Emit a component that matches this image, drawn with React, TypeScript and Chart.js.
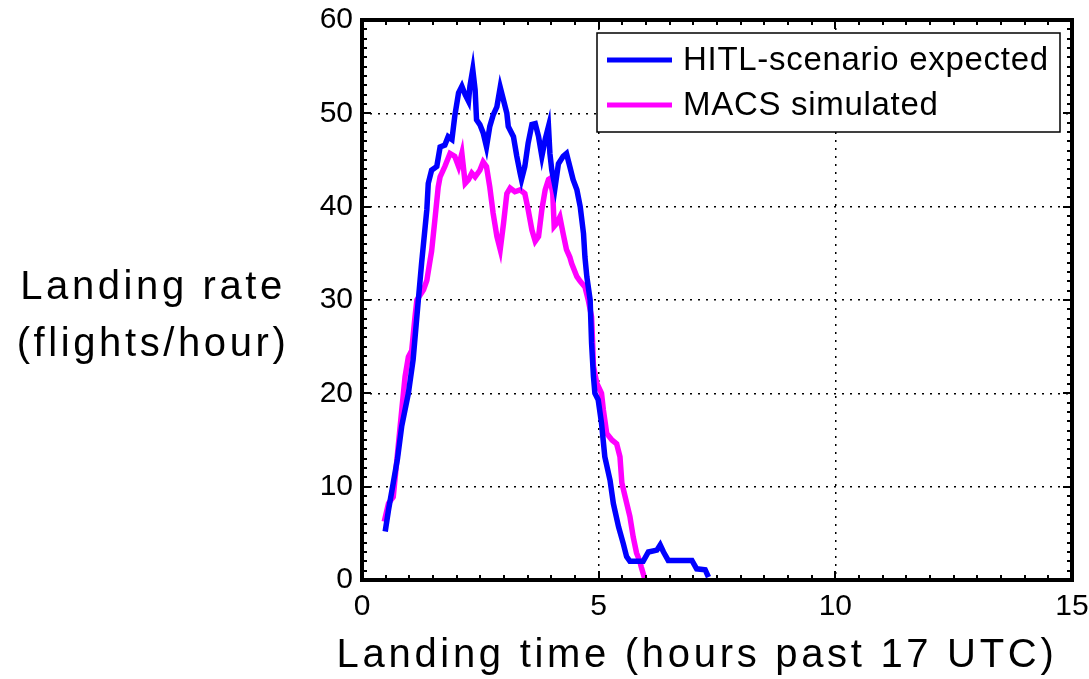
import React, { useEffect, useRef } from 'react';
import { Chart, registerables } from 'chart.js';

Chart.register(...registerables);

// ---- data ----
const hitlTime = [0.49, 0.56, 0.66, 0.75, 0.84, 0.98, 1.08, 1.19, 1.26, 1.37, 1.40, 1.47, 1.58, 1.65, 1.75, 1.82, 1.90, 1.96, 2.04, 2.11, 2.18, 2.25, 2.28, 2.34, 2.39, 2.42, 2.49, 2.56, 2.63, 2.70, 2.77, 2.85, 2.92, 2.99, 3.06, 3.09, 3.20, 3.27, 3.34, 3.37, 3.44, 3.51, 3.59, 3.66, 3.73, 3.80, 3.87, 3.94, 3.97, 4.01, 4.08, 4.15, 4.25, 4.32, 4.39, 4.46, 4.54, 4.61, 4.68, 4.71, 4.75, 4.82, 4.85, 4.89, 4.92, 4.99, 5.06, 5.13, 5.24, 5.31, 5.42, 5.52, 5.59, 5.66, 5.94, 6.05, 6.23, 6.30, 6.37, 6.47, 6.97, 7.07, 7.25, 7.32];
const hitlRate = [5.2, 7.5, 10.4, 13.0, 16.5, 20.0, 23.6, 30.0, 34.0, 39.7, 42.5, 43.9, 44.3, 46.4, 46.6, 47.5, 47.2, 49.7, 52.2, 52.9, 52.0, 51.3, 52.9, 54.7, 52.5, 49.3, 48.8, 47.9, 46.4, 48.6, 49.8, 50.7, 52.8, 51.4, 50.0, 48.6, 47.5, 45.4, 43.6, 42.9, 44.3, 46.8, 48.8, 48.9, 47.5, 45.4, 47.2, 48.6, 45.7, 43.9, 42.1, 44.6, 45.4, 45.7, 44.3, 42.9, 41.8, 40.0, 37.1, 34.6, 32.5, 30.0, 25.4, 21.8, 20.0, 19.3, 16.8, 13.2, 10.7, 8.2, 5.7, 3.9, 2.5, 2.0, 2.0, 3.0, 3.2, 3.75, 3.0, 2.1, 2.1, 1.2, 1.1, 0.3];

const macsTime = [0.47, 0.56, 0.66, 0.73, 0.84, 0.91, 0.98, 1.05, 1.12, 1.16, 1.30, 1.37, 1.44, 1.47, 1.54, 1.61, 1.65, 1.75, 1.86, 1.96, 2.04, 2.11, 2.18, 2.25, 2.32, 2.39, 2.49, 2.56, 2.63, 2.70, 2.77, 2.85, 2.92, 2.99, 3.06, 3.13, 3.23, 3.34, 3.44, 3.51, 3.59, 3.66, 3.73, 3.80, 3.87, 3.94, 3.97, 4.03, 4.06, 4.11, 4.18, 4.25, 4.32, 4.39, 4.43, 4.54, 4.61, 4.71, 4.78, 4.85, 4.87, 4.89, 4.96, 5.06, 5.10, 5.17, 5.28, 5.38, 5.45, 5.49, 5.56, 5.66, 5.73, 5.80, 5.87, 5.90, 5.98];
const macsRate = [6.25, 8.2, 8.9, 12.5, 18.2, 21.8, 23.9, 24.6, 28.2, 30.0, 31.1, 32.1, 34.3, 35.2, 38.6, 42.1, 43.2, 44.3, 45.7, 45.4, 44.3, 45.7, 42.5, 42.9, 43.6, 43.2, 43.9, 44.8, 44.3, 42.1, 39.3, 36.8, 35.4, 38.2, 41.4, 42.0, 41.6, 41.8, 41.4, 39.7, 37.5, 36.3, 36.8, 39.7, 41.8, 42.9, 43.0, 41.4, 37.9, 38.2, 38.9, 37.1, 35.4, 34.6, 33.9, 32.5, 32.0, 31.4, 30.0, 28.2, 25.7, 22.9, 21.1, 20.0, 18.2, 15.7, 15.0, 14.6, 13.2, 10.4, 8.9, 6.8, 4.6, 2.9, 2.0, 1.4, 0.0];

const seriesLabels = ['HITL-scenario expected', 'MACS simulated'];
const seriesColors = ['#0000ff', '#ff00ff'];
const xTickValues = [0, 5, 10, 15];
const yTickValues = [0, 10, 20, 30, 40, 50, 60];
const xMinorStep = 0.5;
const yMinorStep = 1;
const xTitle = 'Landing time (hours past 17 UTC)';
const yTitleLines = ['Landing rate', '(flights/hour)'];

const FONT = '"Liberation Sans", Arial, Helvetica, sans-serif';

function toPoints(xs: number[], ys: number[]) {
  return xs.map((x, i) => ({ x, y: ys[i] }));
}

const decorPlugin = {
  id: 'matlabDecor',
  afterDatasetsDraw(chart: any) {
    const { ctx, chartArea, scales } = chart;
    const { left, right, top, bottom } = chartArea;
    const xs = scales.x;
    const ys = scales.y;
    ctx.save();
    ctx.strokeStyle = '#000';
    ctx.lineWidth = 2;
    ctx.beginPath();
    const xMin = xTickValues[0];
    const xMax = xTickValues[xTickValues.length - 1];
    for (let k = 0; xMin + k * xMinorStep <= xMax + 1e-9; k++) {
      const v = xMin + k * xMinorStep;
      const px = Math.round(xs.getPixelForValue(v));
      const major = xTickValues.includes(v);
      const len = major ? 9 : 5;
      ctx.moveTo(px, bottom);
      ctx.lineTo(px, bottom - len);
      ctx.moveTo(px, top);
      ctx.lineTo(px, top + len);
    }
    const yMin = yTickValues[0];
    const yMax = yTickValues[yTickValues.length - 1];
    for (let k = 0; yMin + k * yMinorStep <= yMax + 1e-9; k++) {
      const v = yMin + k * yMinorStep;
      const py = Math.round(ys.getPixelForValue(v));
      const major = yTickValues.includes(v);
      const len = major ? 9 : 5;
      ctx.moveTo(left, py);
      ctx.lineTo(left + len, py);
      ctx.moveTo(right, py);
      ctx.lineTo(right - len, py);
    }
    ctx.stroke();
    ctx.lineWidth = 4;
    ctx.strokeRect(left, top, right - left, bottom - top);

    // legend
    const boxRight = right - 12;
    const boxTop = top + 13;
    const boxW = 463;
    const boxH = 99;
    const boxLeft = boxRight - boxW;
    ctx.fillStyle = '#fff';
    ctx.fillRect(boxLeft, boxTop, boxW, boxH);
    ctx.lineWidth = 1.5;
    ctx.strokeRect(boxLeft, boxTop, boxW, boxH);
    ctx.font = `33px ${FONT}`;
    ctx.textBaseline = 'middle';
    ctx.textAlign = 'left';
    chart.data.datasets.forEach((ds: any, i: number) => {
      const cy = boxTop + 27 + i * 45;
      ctx.strokeStyle = ds.borderColor;
      ctx.lineWidth = 5;
      ctx.beginPath();
      ctx.moveTo(boxLeft + 10, cy);
      ctx.lineTo(boxLeft + 75, cy);
      ctx.stroke();
      ctx.fillStyle = '#000';
      (ctx as any).letterSpacing = '0.7px';
      ctx.fillText(ds.label, boxLeft + 86, cy + 1);
    });
    ctx.restore();
  },
  afterDraw(chart: any) {
    const { ctx } = chart;
    ctx.save();
    ctx.fillStyle = '#000';
    ctx.textAlign = 'center';
    ctx.textBaseline = 'middle';
    ctx.font = `40px ${FONT}`;
    (ctx as any).letterSpacing = '3.7px';
    ctx.fillText(xTitle, 697, 656);
    (ctx as any).letterSpacing = '3.6px';
    yTitleLines.forEach((line, i) => {
      ctx.fillText(line, 153, 288 + i * 57);
    });
    ctx.restore();
  },
};

export default function App() {
  const canvasRef = useRef<HTMLCanvasElement | null>(null);

  useEffect(() => {
    if (!canvasRef.current) return;
    const chart = new Chart(canvasRef.current, {
      type: 'line',
      data: {
        datasets: [
          {
            label: seriesLabels[0],
            data: toPoints(hitlTime, hitlRate),
            borderColor: seriesColors[0],
            backgroundColor: seriesColors[0],
            borderWidth: 5.5,
            pointRadius: 0,
            tension: 0,
          },
          {
            label: seriesLabels[1],
            data: toPoints(macsTime, macsRate),
            borderColor: seriesColors[1],
            backgroundColor: seriesColors[1],
            borderWidth: 5.5,
            pointRadius: 0,
            tension: 0,
          },
        ],
      },
      options: {
        responsive: false,
        animation: false,
        devicePixelRatio: 1,
        layout: { padding: { top: 20, right: 17, left: 0, bottom: 0 } },
        plugins: {
          legend: { display: false },
          tooltip: { enabled: false },
        },
        scales: {
          x: {
            type: 'linear',
            min: xTickValues[0],
            max: xTickValues[xTickValues.length - 1],
            afterBuildTicks: (s: any) => {
              s.ticks = xTickValues.map((v) => ({ value: v }));
            },
            afterFit: (s: any) => {
              s.height = 99;
              s.paddingLeft = 0;
              s.paddingRight = 0;
            },
            ticks: {
              color: '#000',
              font: { family: FONT, size: 30 },
              padding: 9,
              maxRotation: 0,
            },
            grid: {
              color: '#000',
              lineWidth: 1.5,
              drawTicks: false,
            },
            border: { display: false, dash: [2, 6] },
            title: { display: false },
          },
          y: {
            type: 'linear',
            min: yTickValues[0],
            max: yTickValues[yTickValues.length - 1],
            afterBuildTicks: (s: any) => {
              s.ticks = yTickValues.map((v) => ({ value: v }));
            },
            afterFit: (s: any) => {
              s.width = 362;
              s.paddingTop = 0;
              s.paddingBottom = 0;
            },
            ticks: {
              color: '#000',
              font: { family: FONT, size: 30 },
              padding: 9,
            },
            grid: {
              color: '#000',
              lineWidth: 1.5,
              drawTicks: false,
            },
            border: { display: false, dash: [2, 6] },
            title: { display: false },
          },
        },
      },
      plugins: [decorPlugin],
    });
    return () => chart.destroy();
  }, []);

  return (
    <div style={{ position: 'absolute', left: 0, top: 0, width: 1089, height: 679, background: '#fff' }}>
      <canvas ref={canvasRef} width={1089} height={679} style={{ display: 'block' }} />
    </div>
  );
}
